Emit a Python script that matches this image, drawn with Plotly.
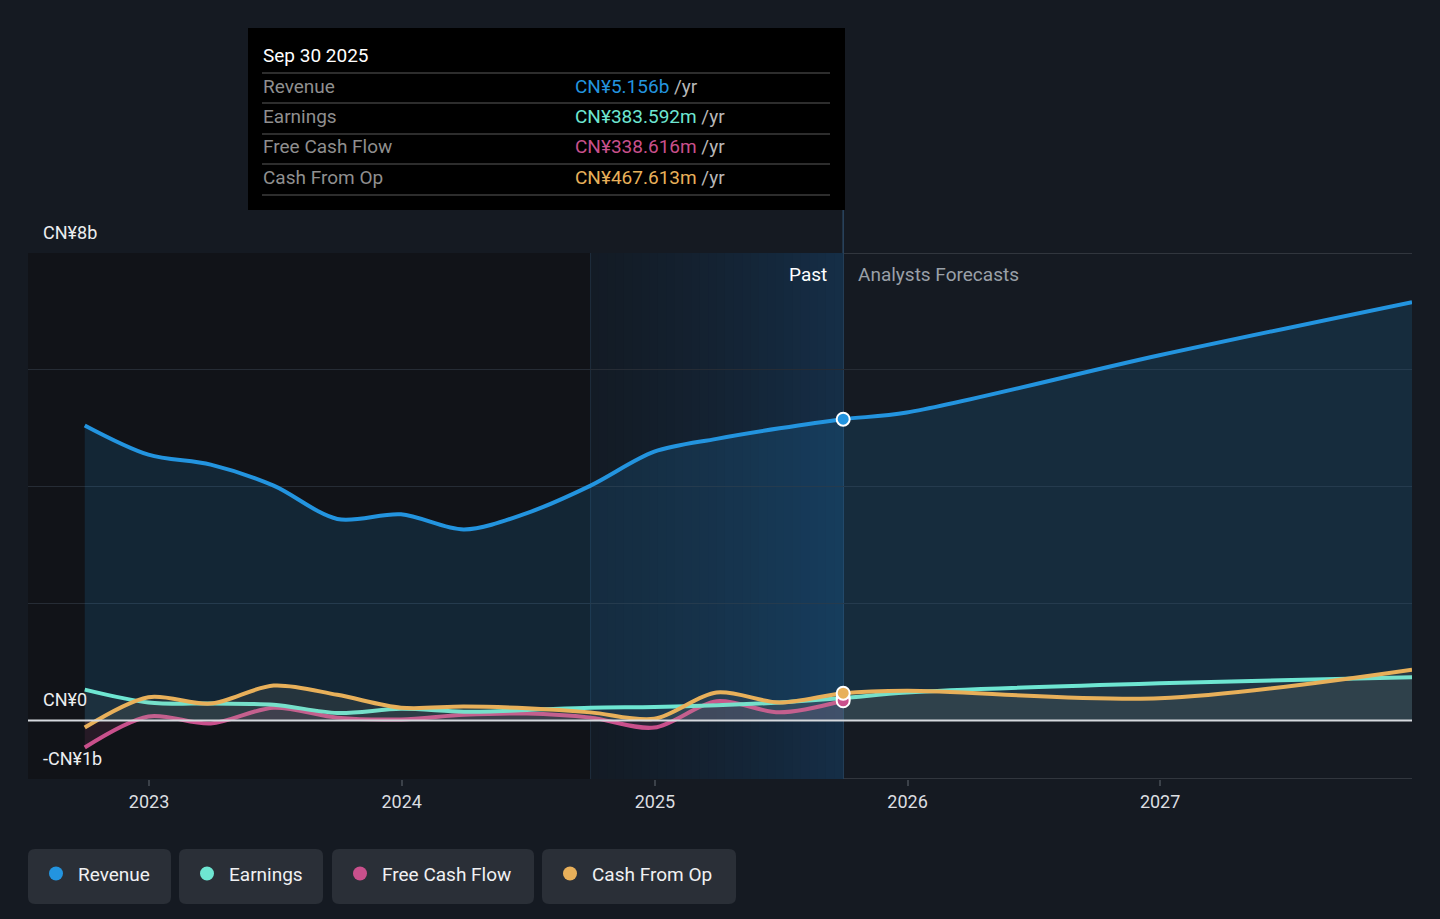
import plotly.graph_objects as go
import datetime as _dt

# ---------------- data (CN¥ billions) ----------------
past_dates = ["2022-09-30", "2022-12-31", "2023-03-31", "2023-06-30", "2023-09-30",
              "2023-12-31", "2024-03-31", "2024-06-30", "2024-09-30", "2024-12-31",
              "2025-03-31", "2025-06-30", "2025-09-30"]
fc_dates = ["2025-12-31", "2026-12-31", "2027-12-31"]

revenue_past = [5.05, 4.55, 4.38, 4.02, 3.45, 3.53, 3.27, 3.55, 4.02, 4.60, 4.82, 5.00, 5.156]
revenue_fc = [5.27, 6.25, 7.16]

earnings_past = [0.53, 0.31, 0.29, 0.27, 0.13, 0.20, 0.15, 0.18, 0.22, 0.23, 0.26, 0.31, 0.384]
earnings_fc = [0.48, 0.64, 0.74]

fcf_past = [-0.46, 0.07, -0.05, 0.22, 0.05, 0.02, 0.10, 0.12, 0.05, -0.12, 0.33, 0.14, 0.339]

cfo_past = [-0.12, 0.40, 0.29, 0.60, 0.44, 0.22, 0.24, 0.21, 0.14, 0.03, 0.48, 0.31, 0.468]
cfo_fc = [0.51, 0.38, 0.87]

year_ticks = ["2023-01-01", "2024-01-01", "2025-01-01", "2026-01-01", "2027-01-01"]
year_labels = ["2023", "2024", "2025", "2026", "2027"]

tooltip_date = "Sep 30 2025"
tooltip_rows = [("Revenue", "CN¥5.156b", "#2394df"),
                ("Earnings", "CN¥383.592m", "#6ee6d2"),
                ("Free Cash Flow", "CN¥338.616m", "#c9508c"),
                ("Cash From Op", "CN¥467.613m", "#e8b05a")]

legend_names = ["Revenue", "Earnings", "Free Cash Flow", "Cash From Op"]
legend_colors = ["#2394df", "#6ee6d2", "#c9508c", "#e8b05a"]

y_labels = [(8, "CN¥8b"), (0, "CN¥0"), (-1, "-CN¥1b")]

X_START = "2022-07-10"
X_END = "2027-12-31"
PAST_END = "2025-09-30"
HIGHLIGHT_START = "2024-09-30"

# ---------------- geometry helpers ----------------
W, H = 1440, 919
L, R, T, B = 28, 28, 253, 140
PW, PH = W - L - R, H - T - B


def pxx(px):
    return (px - L) / PW


def pxy(py):
    return (H - B - py) / PH


BG = "#151a22"
FONT = "Roboto"

fig = go.Figure()

all_dates = past_dates + fc_dates


def line_trace(dates, vals, color, fillcol, name):
    fig.add_trace(go.Scatter(
        x=dates, y=vals, mode="lines", name=name,
        line=dict(color=color, width=4, shape="spline", smoothing=0.9),
        fill="tozeroy", fillcolor=fillcol, hoverinfo="skip", showlegend=False))


line_trace(all_dates, revenue_past + revenue_fc, "#2394df", "rgba(35,148,223,0.15)", "Revenue")
line_trace(past_dates, fcf_past, "#c9508c", "rgba(201,80,140,0.12)", "Free Cash Flow")
line_trace(all_dates, earnings_past + earnings_fc, "#6ee6d2", "rgba(150,190,180,0.07)", "Earnings")
line_trace(all_dates, cfo_past + cfo_fc, "#e8b05a", "rgba(200,180,140,0.10)", "Cash From Op")

# end-of-past markers
for vals, col in [(revenue_past, "#2394df"), (earnings_past, "#6ee6d2"),
                  (fcf_past, "#c9508c"), (cfo_past, "#e8b05a")]:
    fig.add_trace(go.Scatter(x=[past_dates[-1]], y=[vals[-1]], mode="markers",
                             marker=dict(size=13, color=col, line=dict(color="white", width=2)),
                             hoverinfo="skip", showlegend=False))

shapes = []
# past dark region
shapes.append(dict(type="rect", xref="x", yref="y", x0=X_START, x1=HIGHLIGHT_START, y0=-1, y1=8,
                   fillcolor="#111318", line=dict(width=0), layer="below"))
# highlight gradient strips
d0 = _dt.date.fromisoformat(HIGHLIGHT_START)
d1 = _dt.date.fromisoformat(PAST_END)
n = 30
span = (d1 - d0).days
c_start = (19, 27, 37)
c_end = (21, 46, 71)
for i in range(n):
    a = d0 + _dt.timedelta(days=span * i / n)
    b = d0 + _dt.timedelta(days=span * (i + 1) / n + 1)
    t = ((i + 0.5) / n) ** 1.3
    c = tuple(int(round(c_start[k] + (c_end[k] - c_start[k]) * t)) for k in range(3))
    shapes.append(dict(type="rect", xref="x", yref="y", x0=a.isoformat(), x1=min(b, d1).isoformat(),
                       y0=-1, y1=8, fillcolor="rgb(%d,%d,%d)" % c, line=dict(width=0), layer="below"))
# horizontal lines
shapes.append(dict(type="line", xref="paper", yref="y", x0=0, x1=1, y0=8, y1=8,
                   line=dict(color="#3b4149", width=1.5), layer="below"))
shapes.append(dict(type="line", xref="paper", yref="y", x0=0, x1=1, y0=-1, y1=-1,
                   line=dict(color="#3b4149", width=1.5), layer="below"))
shapes.append(dict(type="line", xref="paper", yref="y", x0=0, x1=1, y0=0, y1=0,
                   line=dict(color="#d6d9de", width=2), layer="above"))
# vertical boundary lines
shapes.append(dict(type="line", xref="x", yref="y", x0=HIGHLIGHT_START, x1=HIGHLIGHT_START, y0=-1, y1=8,
                   line=dict(color="#1f2e3d", width=1), layer="below"))
shapes.append(dict(type="line", xref="x", yref="paper", x0=PAST_END, x1=PAST_END, y0=0, y1=pxy(210),
                   line=dict(color="#2a4560", width=1.5), layer="below"))

# tooltip box
shapes.append(dict(type="rect", xref="paper", yref="paper", x0=pxx(248), x1=pxx(845),
                   y0=pxy(210), y1=pxy(28), fillcolor="#000000", line=dict(width=0)))
for yy in [73, 103, 134, 164, 195]:
    shapes.append(dict(type="line", xref="paper", yref="paper", x0=pxx(262), x1=pxx(830),
                       y0=pxy(yy), y1=pxy(yy), line=dict(color="#3c3c3c", width=1.5)))


# legend boxes
def rrect(x0, x1, y0, y1, r=7):
    rx, ry = r / PW, r / PH
    X0, X1, Y0, Y1 = pxx(x0), pxx(x1), pxy(y1), pxy(y0)  # Y0 bottom, Y1 top
    return (f"M {X0+rx},{Y1} L {X1-rx},{Y1} Q {X1},{Y1} {X1},{Y1-ry} "
            f"L {X1},{Y0+ry} Q {X1},{Y0} {X1-rx},{Y0} L {X0+rx},{Y0} "
            f"Q {X0},{Y0} {X0},{Y0+ry} L {X0},{Y1-ry} Q {X0},{Y1} {X0+rx},{Y1} Z")


legend_boxes = [(28, 171), (179, 323), (332, 534), (542, 736)]
annotations = []
for (bx0, bx1), name, col in zip(legend_boxes, legend_names, legend_colors):
    shapes.append(dict(type="path", xref="paper", yref="paper", path=rrect(bx0, bx1, 849, 904),
                       fillcolor="#2a2f37", line=dict(width=0)))
    cx, cy, rr = bx0 + 28, 873.5, 7
    shapes.append(dict(type="circle", xref="paper", yref="paper", x0=pxx(cx - rr), x1=pxx(cx + rr),
                       y0=pxy(cy + rr), y1=pxy(cy - rr), fillcolor=col, line=dict(width=0)))
    annotations.append(dict(xref="paper", yref="paper", x=pxx(bx0 + 48), y=pxy(874), text=name,
                            showarrow=False, xanchor="left", yanchor="middle",
                            font=dict(family=FONT, size=19, color="#f0f1f3")))

# tooltip texts
annotations.append(dict(xref="paper", yref="paper", x=pxx(261), y=pxy(55), text=tooltip_date,
                        showarrow=False, xanchor="left", yanchor="middle",
                        font=dict(family=FONT, size=19, color="#ffffff")))
for i, (lab, val, col) in enumerate(tooltip_rows):
    yy = 86 + i * 30.5
    annotations.append(dict(xref="paper", yref="paper", x=pxx(261), y=pxy(yy), text=lab,
                            showarrow=False, xanchor="left", yanchor="middle",
                            font=dict(family=FONT, size=19, color="#8f8f8f")))
    annotations.append(dict(xref="paper", yref="paper", x=pxx(573), y=pxy(yy),
                            text=f"<span style='color:{col}'>{val}</span> /yr",
                            showarrow=False, xanchor="left", yanchor="middle",
                            font=dict(family=FONT, size=19, color="#b8b8b8")))

# Past / forecast labels
annotations.append(dict(xref="x", yref="paper", x=PAST_END, y=pxy(274), text="Past", xshift=-14,
                        showarrow=False, xanchor="right", yanchor="middle",
                        font=dict(family=FONT, size=19, color="#ffffff")))
annotations.append(dict(xref="x", yref="paper", x=PAST_END, y=pxy(274), text="Analysts Forecasts",
                        xshift=13, showarrow=False, xanchor="left", yanchor="middle",
                        font=dict(family=FONT, size=19, color="#9aa0a8")))

# y labels
for val, txt in y_labels:
    annotations.append(dict(xref="paper", yref="y", x=pxx(41), y=val, yshift=21, text=txt,
                            showarrow=False, xanchor="left", yanchor="middle",
                            font=dict(family=FONT, size=18, color="#eceef0")))

fig.update_layout(
    width=W, height=H, autosize=False,
    margin=dict(l=L, r=R, t=T, b=B),
    paper_bgcolor=BG, plot_bgcolor=BG,
    font=dict(family=FONT, color="#d8dadd"),
    shapes=shapes, annotations=annotations, showlegend=False,
    xaxis=dict(type="date", range=[X_START, X_END], showgrid=False, zeroline=False,
               tickvals=year_ticks, ticktext=year_labels, ticks="outside", ticklen=6,
               tickcolor="#3b4149", tickwidth=1.5, showline=False,
               tickfont=dict(family=FONT, size=18, color="#dcdee1"), fixedrange=True),
    yaxis=dict(range=[-1, 8], tickvals=[2, 4, 6], showticklabels=False, showgrid=True,
               gridcolor="#262c35", gridwidth=1, zeroline=False, fixedrange=True),
)

fig.write_html("out.html", config={"displayModeBar": False},
               post_script="document.body.style.margin='0';document.body.style.background='#151a22';")
